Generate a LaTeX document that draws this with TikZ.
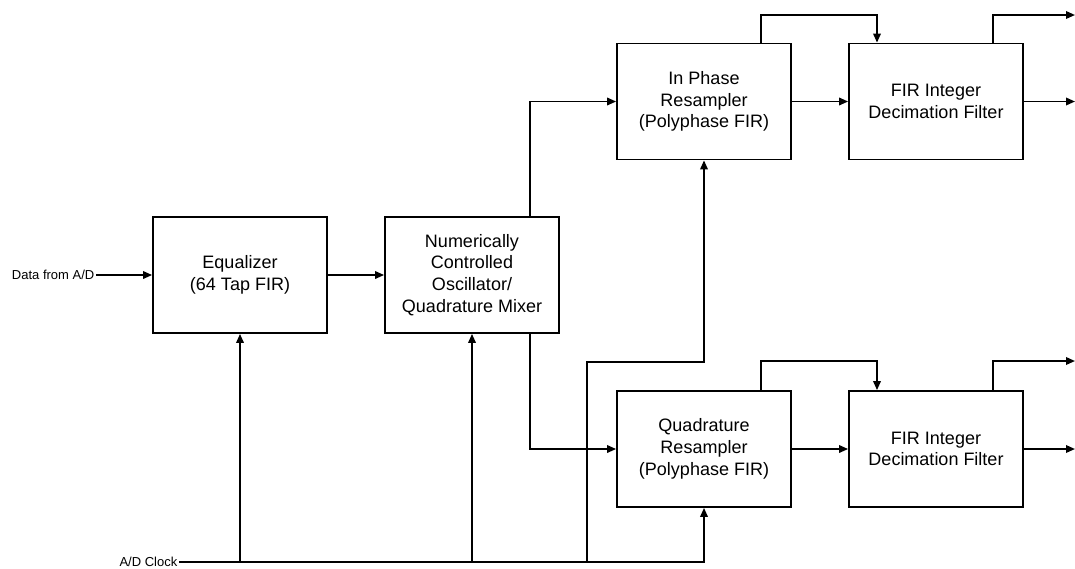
\documentclass[tikz,border=0pt]{standalone}
\usepackage{fontspec}
\setmainfont{Liberation Sans}
\usetikzlibrary{arrows.meta}
\tikzset{
  blk/.style={draw, line width=1.8pt, minimum width=174pt, minimum height=116pt, inner sep=0pt, align=center, font=\fontsize{18}{21.7}\selectfont},
  lbl/.style={inner xsep=1.5pt, inner ysep=0pt, font=\fontsize{13}{15}\selectfont},
  wire/.style={line width=1.8pt},
  arr/.style={wire, -{Triangle[length=9pt,width=7.5pt]}}
}
\begin{document}
\begin{tikzpicture}[x=1pt,y=-1pt]
\useasboundingbox (0,0) rectangle (1075,568);
% blocks
\node[blk] (eq)  at (240,275)   {Equalizer\\(64 Tap FIR)};
\node[blk] (nco) at (472,275)   {Numerically\\Controlled\\Oscillator/\\Quadrature Mixer};
\node[blk] (ip)  at (704,101.5) {In Phase\\Resampler\\(Polyphase FIR)};
\node[blk] (fa)  at (936,101.5) {FIR Integer\\Decimation Filter};
\node[blk] (qd)  at (704,449)   {Quadrature\\Resampler\\(Polyphase FIR)};
\node[blk] (fb)  at (936,449)   {FIR Integer\\Decimation Filter};
% labels
\node[lbl, anchor=east] (din) at (96,275) {Data from A/D};
\node[lbl, anchor=east] (clk) at (179,562) {A/D Clock};
% helper coordinates
\coordinate (ncox) at (530,0);
\coordinate (redge) at (1075,0);
\coordinate (ta1) at (761,15);
\coordinate (ta2) at (877,15);
\coordinate (ta3) at (993,15);
\coordinate (tb1) at (761,361);
\coordinate (tb2) at (877,361);
\coordinate (tb3) at (993,361);
\coordinate (br) at (587,362);
% main path
\draw[arr] (din.east) -- (eq.west);
\draw[arr] (eq.east) -- (nco.west);
\draw[arr] (nco.north -| ncox) |- (ip.west);
\draw[arr] (nco.south -| ncox) |- (qd.west);
\draw[arr] (ip.east) -- (fa.west);
\draw[arr] (qd.east) -- (fb.west);
% upper branch
\draw[arr] (ip.north -| ta1) -- (ta1) -- (ta2) -- (fa.north -| ta2);
\draw[arr] (fa.north -| ta3) |- (ta3 -| redge);
\draw[arr] (fa.east) -- (fa.east -| redge);
% lower branch
\draw[arr] (qd.north -| tb1) -- (tb1) -- (tb2) -- (fb.north -| tb2);
\draw[arr] (fb.north -| tb3) |- (tb3 -| redge);
\draw[arr] (fb.east) -- (fb.east -| redge);
% clock
\draw[arr] (clk.east) -| (qd.south);
\draw[arr] (clk.east -| eq.south) -- (eq.south);
\draw[arr] (clk.east -| nco.south) -- (nco.south);
\draw[arr] (clk.east -| br) -- (br) -| (ip.south);
\end{tikzpicture}
\end{document}
